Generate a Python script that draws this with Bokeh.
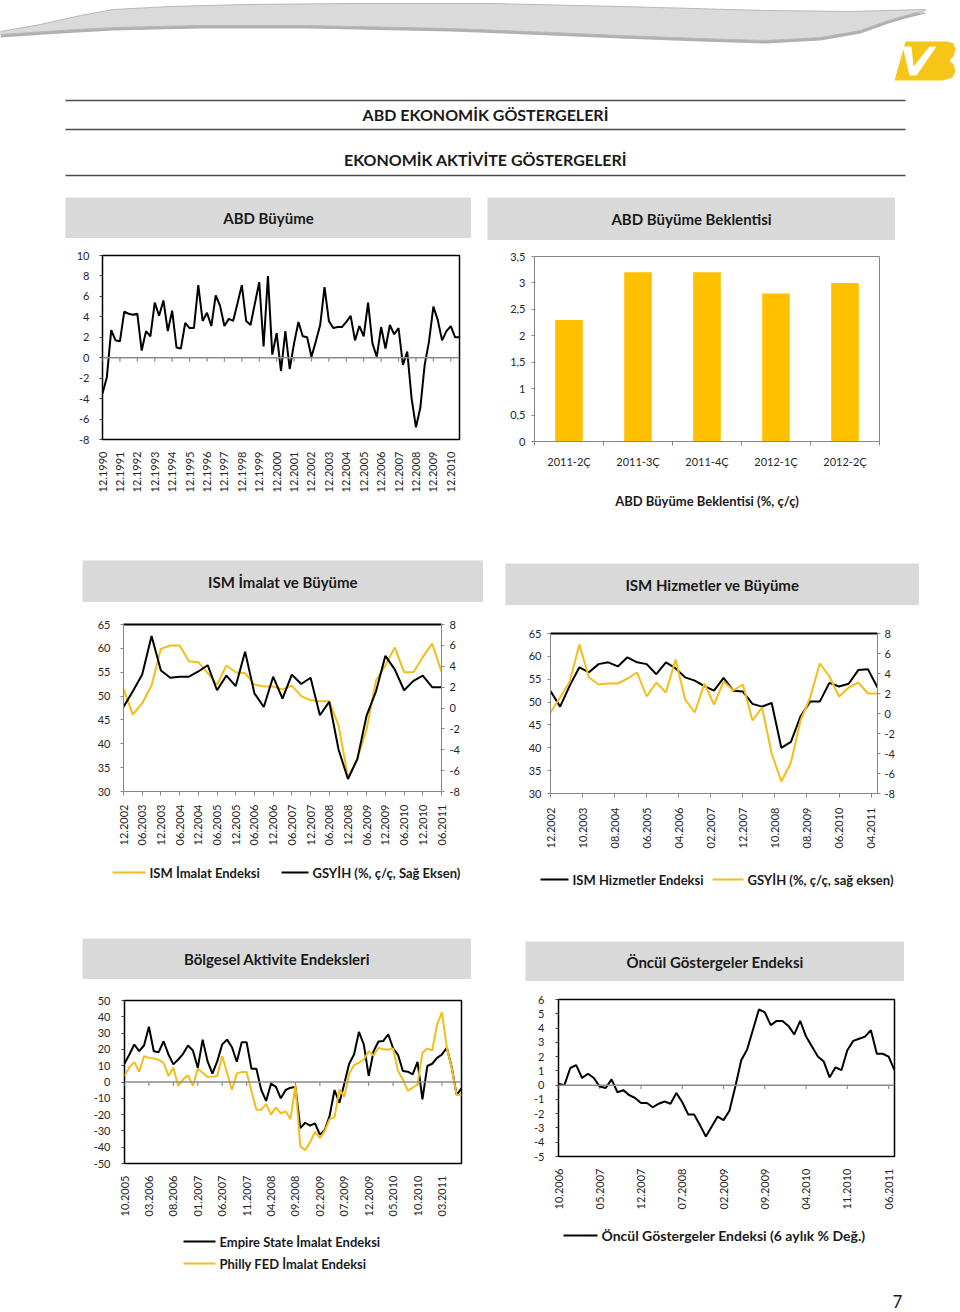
import math
from bokeh.plotting import figure
from bokeh.models import Range1d, LinearAxis, FixedTicker, Span, Label, Spacer
from bokeh.layouts import column, row
from bokeh.embed import file_html
from bokeh.resources import INLINE

FONT = "Lato"
TXT = "#262626"
YEL = "#F2BE1A"
BAR_COL = "#FFC000"
BOX = "#D9D9D9"
AX = "#868686"

# ---------------- data ----------------
# ABD Büyüme: quarterly GDP growth (%), 12.1990 .. 06.2011
gdp_growth = [
    -3.5,
    -1.9, 2.7, 1.7, 1.6,
    4.5, 4.3, 4.2, 4.3,
    0.7, 2.6, 2.1, 5.4,
    4.1, 5.6, 2.6, 4.6,
    1.0, 0.9, 3.4, 2.9,
    2.9, 7.1, 3.6, 4.4,
    3.1, 6.1, 5.1, 3.1,
    3.8, 3.6, 5.3, 7.1,
    3.6, 3.2, 5.3, 7.4,
    1.1, 8.0, 0.3, 2.4,
    -1.3, 2.6, -1.1, 1.4,
    3.5, 2.1, 2.0, 0.1,
    1.6, 3.2, 6.9, 3.6,
    2.9, 3.0, 3.0, 3.5,
    4.1, 1.7, 3.1, 2.1,
    5.4, 1.4, 0.1, 3.0,
    0.9, 3.2, 2.3, 2.9,
    -0.7, 0.6, -4.0, -6.8,
    -4.9, -0.7, 1.6, 5.0,
    3.7, 1.7, 2.6, 3.1,
    2.0, 2.0,
]
gdp_labels = ["12.1990", "12.1991", "12.1992", "12.1993", "12.1994", "12.1995",
              "12.1996", "12.1997", "12.1998", "12.1999", "12.2000", "12.2001",
              "12.2002", "12.2003", "12.2004", "12.2005", "12.2006", "12.2007",
              "12.2008", "12.2009", "12.2010"]

# ABD Büyüme Beklentisi
fc_categories = ["2011-2Ç", "2011-3Ç", "2011-4Ç", "2012-1Ç", "2012-2Ç"]
fc_values = [2.3, 3.2, 3.2, 2.8, 3.0]
fc_ylabels = ["0", "0,5", "1", "1,5", "2", "2,5", "3", "3,5"]

# ISM (quarterly, 12.2002 .. 06.2011)
gdp_recent = gdp_growth[48:]
ism_manuf = [51.5, 46.1, 48.5, 52.2, 59.9, 60.6, 60.6, 57.3, 57.1, 54.8, 52.4, 56.4,
             55.0, 54.8, 52.4, 52.0, 52.0, 51.4, 52.2, 50.0, 49.1, 48.9, 48.9, 43.8,
             33.0, 36.8, 43.1, 53.3, 56.4, 60.2, 55.0, 55.0, 58.2, 61.0, 55.1]
ism_serv = [52.4, 49.0, 53.6, 57.6, 56.5, 58.3, 58.7, 57.8, 59.8, 58.7, 58.3, 56.1,
            58.7, 57.4, 55.4, 54.7, 53.5, 52.5, 55.3, 52.5, 52.3, 49.6, 49.0, 49.8,
            40.0, 41.3, 46.9, 50.1, 50.1, 54.2, 53.4, 54.0, 57.0, 57.2, 53.2]
ism_m_labels = ["12.2002", "06.2003", "12.2003", "06.2004", "12.2004", "06.2005",
                "12.2005", "06.2006", "12.2006", "06.2007", "12.2007", "06.2008",
                "12.2008", "06.2009", "12.2009", "06.2010", "12.2010", "06.2011"]
ism_s_labels = ["12.2002", "10.2003", "08.2004", "06.2005", "04.2006", "02.2007",
                "12.2007", "10.2008", "08.2009", "06.2010", "04.2011"]

# Bölgesel aktivite (monthly, 10.2005 .. 07.2011)
empire = [11.4, 16.9, 23.0, 18.9, 22.4, 33.9, 18.9, 18.3, 25.0, 16.9, 10.8, 13.8,
          17.3, 22.4, 19.3, 8.7, 26.0, 12.8, 5.1, 12.8, 23.0, 26.0, 21.3, 12.4,
          24.4, 24.4, 8.1, 8.1, -4.9, -11.6, -1.0, -3.0, -10.0, -4.9, -3.5,
          -3.0, -28.3, -25.0, -26.8, -25.4, -32.3, -29.5, -20.7, -4.9, -12.8, -1.0,
          11.2, 16.9, 30.7, 23.0, 3.7, 18.9, 24.8, 25.2, 29.3, 20.7, 16.7, 6.7,
          6.3, 4.7, 12.4, -10.6, 9.8, 11.2, 14.8, 16.9, 21.0, 9.1, -7.9, -3.9]
philly = [3.7, 9.1, 12.2, 6.3, 15.9, 14.8, 14.4, 13.6, 11.8, 3.7, 8.7, -2.4,
          1.6, 4.1, -2.4, 8.1, 5.7, 3.0, 3.3, 3.7, 15.9, 5.7, -4.9, 5.3,
          6.1, 6.1, -5.7, -17.0, -17.0, -13.6, -20.0, -15.6, -19.3, -18.0, -22.8,
          -1.8, -39.4, -41.9, -37.0, -30.5, -34.5, -30.0, -22.8, -21.7, -4.5, -9.0,
          5.0, 10.4, 11.8, 13.8, 18.9, 16.3, 21.0, 20.0, 20.0, 20.5, 6.7, 1.6,
          -5.5, -3.5, -1.4, 17.9, 20.5, 19.3, 35.2, 42.9, 21.0, 8.7, -7.9, -7.9]
reg_labels = ["10.2005", "03.2006", "08.2006", "01.2007", "06.2007", "11.2007",
              "04.2008", "09.2008", "02.2009", "07.2009", "12.2009", "05.2010",
              "10.2010", "03.2011"]

# Öncül göstergeler (monthly, 10.2006 .. 07.2011)
lei = [0.1, 0.0, 1.2, 1.4, 0.5, 0.8, 0.5, -0.1, -0.2, 0.4, -0.5, -0.35,
       -0.7, -0.9, -1.25, -1.25, -1.55, -1.3, -1.15, -1.3, -0.55, -1.2, -2.05, -2.05,
       -2.8, -3.6, -2.9, -2.2, -2.45, -1.8, -0.1, 1.75, 2.5, 3.9, 5.3, 5.1,
       4.2, 4.5, 4.5, 4.15, 3.55, 4.5, 3.4, 2.7, 2.0, 1.65, 0.55, 1.25,
       1.05, 2.45, 3.1, 3.25, 3.4, 3.85, 2.2, 2.2, 2.0, 1.05]
lei_labels = ["10.2006", "05.2007", "12.2007", "07.2008", "02.2009", "09.2009",
              "04.2010", "11.2010", "06.2011"]


# ---------------- helpers ----------------
def make_fig(w, h, l, r, t, b, xr, yr):
    p = figure(width=w, height=h, x_range=xr, y_range=yr, output_backend="svg",
               toolbar_location=None, tools="", min_border_left=l, min_border_right=r,
               min_border_top=t, min_border_bottom=b, background_fill_color="white",
               border_fill_color="white")
    p.grid.visible = False
    return p


def blank_fig(w, h, xr, yr, bg="white"):
    p = figure(width=w, height=h, x_range=xr, y_range=yr, x_axis_type=None,
               y_axis_type=None, toolbar_location=None, tools="", output_backend="svg",
               min_border=0, background_fill_color=bg, border_fill_color=bg,
               outline_line_color=None)
    p.grid.visible = False
    return p


def style_axis(ax, tick_out=3, standoff=8, line_color=AX, tick_color=AX, size="11px"):
    ax.major_label_text_font = FONT
    ax.major_label_text_font_size = size
    ax.major_label_text_color = TXT
    ax.major_tick_out = tick_out
    ax.major_tick_in = 0
    ax.minor_tick_out = 0
    ax.minor_tick_in = 0
    ax.major_label_standoff = standoff
    ax.axis_line_color = line_color
    ax.major_tick_line_color = tick_color


def int_ticks(ax, ticks):
    """Fixed integer ticks, labelled with a plain hyphen minus as in the original."""
    ax.ticker = FixedTicker(ticks=ticks)
    ax.major_label_overrides = {t: str(t) for t in ticks}


def title_box(text, w, h):
    p = blank_fig(w, h, Range1d(0, 1), Range1d(0, 1), BOX)
    p.add_layout(Label(x=0.5, y=0.5, text=text, text_align="center",
                       text_baseline="middle", text_font=FONT, text_font_style="bold",
                       text_font_size="15px", text_color="#1a1a1a"))
    return p


def legend_fig(w, h, items, size="13px"):
    """items: (x0, x1, y, colour, label) in the legend strip's own pixels."""
    p = blank_fig(w, h, Range1d(0, w), Range1d(h, 0))
    for x0, x1, yc, col, lab in items:
        p.line([x0, x1], [yc, yc], line_color=col, line_width=2)
        p.add_layout(Label(x=x1 + 4, y=yc, text=lab, text_align="left",
                           text_baseline="middle", text_font=FONT,
                           text_font_style="bold", text_font_size=size,
                           text_color="#1a1a1a"))
    return p


def zero_line(p, ticks, dy):
    p.add_layout(Span(location=0, dimension="width", line_color="#8c8c8c", line_width=1.5))
    p.segment(x0=ticks, y0=[0] * len(ticks), x1=ticks, y1=[-dy] * len(ticks),
              line_color="#8c8c8c", line_width=1.2)


def bottom_labels(p, ticks, labels, tick_out, standoff, line_color, tick_color):
    xa = p.below[0]
    xa.ticker = FixedTicker(ticks=ticks)
    xa.major_label_overrides = {t: lab for t, lab in zip(ticks, labels)}
    xa.major_label_orientation = math.pi / 2
    style_axis(xa, tick_out, standoff, line_color, tick_color)
    return xa


# ---------------- header ----------------
ph = blank_fig(960, 190, Range1d(0, 960), Range1d(190, 0))
wave_top = [(0, 31), (40, 24), (80, 15), (113, 9), (170, 6), (245, 4), (350, 3), (490, 3),
            (620, 6), (765, 10), (850, 11), (925, 9)]
wave_bot = [(925, 10), (905, 15), (888, 20), (860, 30), (820, 37), (765, 40), (700, 38),
            (620, 35), (551, 32), (450, 28), (306, 25), (200, 25), (113, 27), (60, 30), (0, 34)]
wx = [a for a, b in wave_top + wave_bot]
wy = [b for a, b in wave_top + wave_bot]
ph.patch(wx, [y + 3 for y in wy], fill_color="#b0b0b0", line_color=None)
ph.patch(wx, wy, fill_color="#dadada", line_color="#b8b8b8", line_width=1)
# logo
ph.patch([905, 947, 953, 955, 953, 949, 953, 955, 952, 942, 894],
         [41, 41, 43, 49, 56, 60, 64, 71, 77, 80, 80], fill_color="#F5C518", line_color=None)
ph.patch([902, 911, 913, 929, 936, 916, 909], [46, 46, 66, 46, 46, 75, 75],
         fill_color="white", line_color=None)
for yv in (100, 129, 175):
    ph.line([65, 905], [yv, yv], line_color="#4d4d4d", line_width=1.5)
ph.add_layout(Label(x=485, y=114, text="ABD EKONOMİK GÖSTERGELERİ", text_align="center",
                    text_baseline="middle", text_font=FONT, text_font_style="bold",
                    text_font_size="16px", text_color="#1a1a1a"))
ph.add_layout(Label(x=485, y=159, text="EKONOMİK AKTİVİTE GÖSTERGELERİ", text_align="center",
                    text_baseline="middle", text_font=FONT, text_font_style="bold",
                    text_font_size="16px", text_color="#1a1a1a"))

# ---------------- panel 1: ABD Büyüme ----------------
x1 = list(range(len(gdp_growth)))
p1 = make_fig(479, 287, 102, 20, 17, 86, Range1d(0, len(gdp_growth) - 1), Range1d(-8, 10))
p1.outline_line_color = "black"
p1.outline_line_width = 1.5
t1 = [4 * i for i in range(len(gdp_labels))]
zero_line(p1, t1, 0.4)
p1.line(x1, gdp_growth, line_color="black", line_width=2)
ya = p1.left[0]
int_ticks(ya, list(range(-8, 11, 2)))
style_axis(ya, 3, 10, None, "#404040")
bottom_labels(p1, t1, gdp_labels, 0, 12, None, None)

# ---------------- panel 2: Beklenti ----------------
x2 = list(range(len(fc_values)))
p2 = make_fig(481, 285, 55, 81, 16, 84, Range1d(-0.5, len(fc_values) - 0.5), Range1d(0, 3.5))
p2.outline_line_color = AX
p2.outline_line_width = 1
p2.vbar(x=x2, top=fc_values, width=0.4, fill_color=BAR_COL, line_color=None)
ya = p2.left[0]
yt2 = [0.5 * i for i in range(len(fc_ylabels))]
ya.ticker = FixedTicker(ticks=yt2)
ya.major_label_overrides = {t: lab for t, lab in zip(yt2, fc_ylabels)}
style_axis(ya, 3, 6)
xa = p2.below[0]
xa.ticker = FixedTicker(ticks=x2, minor_ticks=[i - 0.5 for i in range(len(fc_values) + 1)])
xa.major_label_overrides = {t: lab for t, lab in zip(x2, fc_categories)}
style_axis(xa, 0, 9)
xa.minor_tick_out = 4
xa.minor_tick_line_color = AX
xa.axis_label = "ABD Büyüme Beklentisi (%, ç/ç)"
xa.axis_label_text_font = FONT
xa.axis_label_text_font_style = "bold"
xa.axis_label_text_font_size = "13px"
xa.axis_label_text_color = "#1a1a1a"
xa.axis_label_standoff = 22


# ---------------- panels 3/4: ISM ----------------
def ism_fig(w, h, l, r, t, b):
    p = make_fig(w, h, l, r, t, b, Range1d(0, 3 * (len(ism_manuf) - 1)), Range1d(30, 65))
    p.extra_y_ranges = {"gdp": Range1d(-8, 8)}
    p.outline_line_color = None
    int_ticks(p.left[0], list(range(30, 66, 5)))
    ra = LinearAxis(y_range_name="gdp")
    int_ticks(ra, list(range(-8, 9, 2)))
    p.add_layout(ra, "right")
    top = LinearAxis(ticker=FixedTicker(ticks=[]), axis_line_color="black",
                     axis_line_width=2, major_label_text_font_size="0px",
                     major_tick_out=0, major_tick_in=0)
    p.add_layout(top, "above")
    return p, ra


qm = [3 * i for i in range(len(ism_manuf))]

p3, ra3 = ism_fig(494, 253, 123, 53, 22, 64)
r_ism = p3.line(qm, ism_manuf, line_color=YEL, line_width=2)
r_g3 = p3.line(qm, gdp_recent, line_color="black", line_width=2, y_range_name="gdp")
style_axis(p3.left[0], 3, 10)
style_axis(ra3, 3, 5)
t3 = [6 * i for i in range(len(ism_m_labels))]
bottom_labels(p3, t3, ism_m_labels, 4, 9, AX, AX)
lg3 = legend_fig(494, 50, [(112, 145, 17, YEL, "ISM İmalat Endeksi"),
                           (281, 308, 17, "black", "GSYİH (%, ç/ç, Sağ Eksen)")])

p4, ra4 = ism_fig(466, 255, 56, 83, 28, 67)
r_srv = p4.line(qm, ism_serv, line_color="black", line_width=2)
r_g4 = p4.line(qm, gdp_recent, line_color=YEL, line_width=2, y_range_name="gdp")
style_axis(p4.left[0], 3, 6)
style_axis(ra4, 3, 4)
t4 = [10 * i for i in range(len(ism_s_labels))]
bottom_labels(p4, t4, ism_s_labels, 4, 10, AX, AX)
lg4 = legend_fig(466, 45, [(46, 74, 19, "black", "ISM Hizmetler Endeksi"),
                           (218, 249, 19, YEL, "GSYİH (%, ç/ç, sağ eksen)")])

# ---------------- panel 5: Bölgesel ----------------
x5 = list(range(len(empire)))
p5 = make_fig(498, 246, 124, 37, 21, 62, Range1d(0, len(empire) - 1), Range1d(-50, 50))
p5.outline_line_color = "black"
p5.outline_line_width = 1.5
t5 = [5 * i for i in range(len(reg_labels))]
zero_line(p5, t5, 2.4)
r_emp = p5.line(x5, empire, line_color="black", line_width=2)
r_phl = p5.line(x5, philly, line_color=YEL, line_width=2)
ya = p5.left[0]
int_ticks(ya, list(range(-50, 51, 10)))
style_axis(ya, 3, 11, None, "#404040")
bottom_labels(p5, t5, reg_labels, 0, 12, None, None)
lg5 = legend_fig(498, 87, [(183, 215, 16, "black", "Empire State İmalat Endeksi"),
                           (183, 215, 38, YEL, "Philly FED İmalat Endeksi")])

# ---------------- panel 6: Öncül ----------------
x6 = list(range(len(lei)))
p6 = make_fig(462, 239, 60, 66, 18, 64, Range1d(0, len(lei) - 1), Range1d(-5, 6))
p6.outline_line_color = "black"
p6.outline_line_width = 1.5
t6 = [7 * i for i in range(len(lei_labels))]
zero_line(p6, t6, 0.27)
r_lei = p6.line(x6, lei, line_color="black", line_width=2)
ya = p6.left[0]
int_ticks(ya, list(range(-5, 7)))
style_axis(ya, 3, 11, None, "#404040")
bottom_labels(p6, t6, lei_labels, 0, 12, None, None)
lg6 = legend_fig(462, 92, [(65, 99, 15, "black", "Öncül Göstergeler  Endeksi  (6 aylık % Değ.)")],
                 size="14px")
lg6.add_layout(Label(x=399, y=81, text="7", text_align="center", text_baseline="middle",
                     text_font=FONT, text_font_size="17px", text_color="#1a1a1a"))

# ---------------- layout ----------------
b1 = title_box("ABD Büyüme", 406, 41)
b2 = title_box("ABD Büyüme Beklentisi", 408, 43)
b3 = title_box("ISM İmalat ve Büyüme", 401, 42)
b4 = title_box("ISM Hizmetler ve Büyüme", 414, 42)
b5 = title_box("Bölgesel Aktivite Endeksleri", 389, 41)
b6 = title_box("Öncül Göstergeler Endeksi", 379, 40)

c1 = column(Spacer(width=479, height=7), row(Spacer(width=65, height=41), b1), p1)
c2 = column(Spacer(width=481, height=7), row(Spacer(width=8, height=43), b2), p2)
c3 = column(Spacer(width=494, height=35), row(Spacer(width=82, height=42), b3), p3,
            row(Spacer(width=0, height=50), lg3))
c4 = column(Spacer(width=466, height=38), row(Spacer(width=11, height=42), b4), p4,
            row(Spacer(width=0, height=45), lg4))
c5 = column(Spacer(width=498, height=33), row(Spacer(width=82, height=41), b5), p5,
            row(Spacer(width=0, height=87), lg5))
c6 = column(Spacer(width=462, height=36), row(Spacer(width=27, height=40), b6), p6,
            row(Spacer(width=0, height=92), lg6))

page = column(ph, row(c1, c2), row(c3, c4), row(c5, c6))

open("out.html", "w").write(file_html(page, INLINE))
